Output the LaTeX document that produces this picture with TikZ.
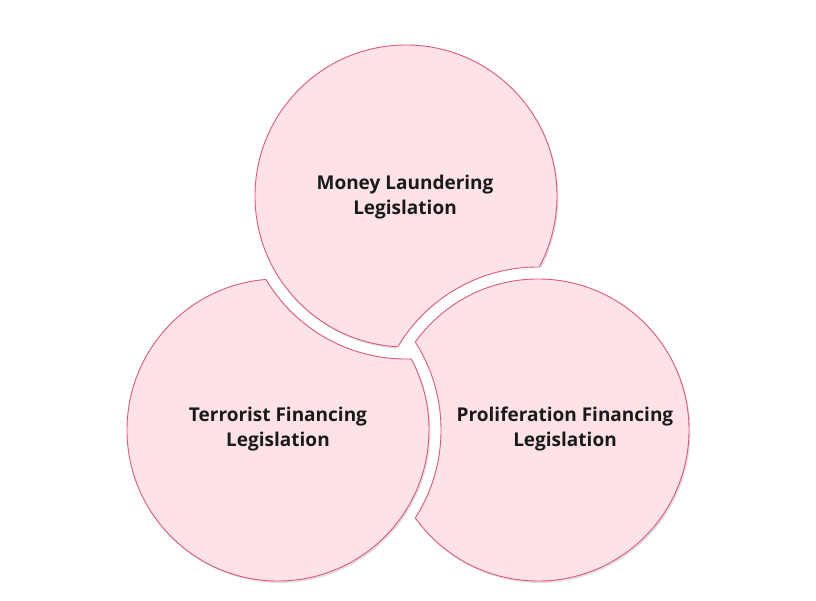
\documentclass[tikz,border=0pt]{standalone}
\usepackage{fontspec}
\setmainfont{Open Sans}
\usetikzlibrary{positioning}

\definecolor{discpink}{HTML}{FDE2E7}
\definecolor{discedge}{HTML}{DB5A7C}
\definecolor{labelink}{HTML}{1A1A1A}

\tikzset{
  discfill/.style={fill=discpink},
  discline/.style={draw=discedge, line width=0.9pt},
  discshadow/.style={fill=black, opacity=0.12},
  disclabel/.style={align=center, text=labelink, font=\bfseries\fontsize{19}{25}\selectfont}
}

% disc #1 with a bite taken out by the widened disc #2
\newcommand{\bitdisc}[2]{%
  \begin{scope}
    \clip (-10,-10) -- (-10,610) -- (830,610) -- (830,-10) -- cycle (#2) circle (163);
    \fill[discshadow] ([shift={(1.5,-2)}]#1) circle (151);
    \fill[discfill] (#1) circle (151);
    \draw[discline] (#1) circle (151);
  \end{scope}
  \begin{scope}
    \clip (#1) circle (151);
    \draw[discline] (#2) circle (163);
  \end{scope}
}

\begin{document}
\begin{tikzpicture}[x=1pt, y=1pt]
  \useasboundingbox (0,0) rectangle (816,600);
  \fill[white] (0,0) rectangle (816,600);

  \coordinate (money) at (406,404);
  \coordinate (terror) at (278,170);
  \coordinate (prolif) at (538,170);

  \bitdisc{money}{prolif}
  \bitdisc{terror}{money}
  \bitdisc{prolif}{terror}

  \node[disclabel] (ml) at (405,403) {Money Laundering\\Legislation};
  \node[disclabel] (tf) at (278,171) {Terrorist Financing\\Legislation};
  \node[disclabel] (pf) at (565,171) {Proliferation Financing\\Legislation};
\end{tikzpicture}
\end{document}
